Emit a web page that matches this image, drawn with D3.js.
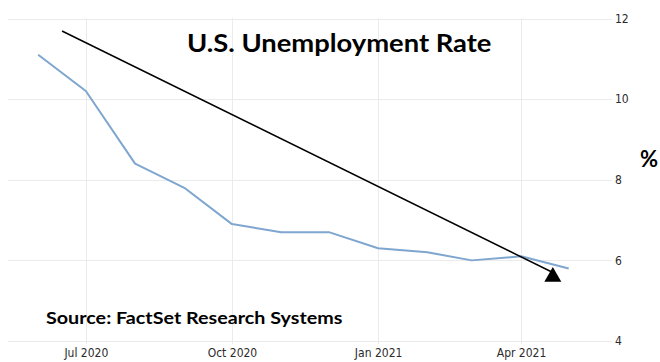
<!DOCTYPE html>
<html>
<head>
<meta charset="utf-8">
<script src="https://cdn.jsdelivr.net/npm/d3@7"></script>
<style>
  body { margin: 0; background: #fff; }
  .tick text { font-family: "Liberation Sans Narrow", "DejaVu Sans Condensed", sans-serif; font-size: 12px; fill: #2b2b2b; }
</style>
</head>
<body>
<script>
'use strict';

// monthly unemployment rate, Jun 2020 - May 2021
const months = ['2020-06-01', '2020-07-01', '2020-08-01', '2020-09-01', '2020-10-01', '2020-11-01',
                '2020-12-01', '2021-01-01', '2021-02-01', '2021-03-01', '2021-04-01', '2021-05-01'];
const rates = [11.1, 10.2, 8.4, 7.8, 6.9, 6.7, 6.7, 6.3, 6.2, 6.0, 6.1, 5.8];

const xTicks = ['2020-07-01', '2020-10-01', '2021-01-01', '2021-04-01'];
const yTicks = [4, 6, 8, 10, 12];

// trend arrow annotation (date, value)
const arrowFrom = ['2020-06-16', 11.69];
const arrowTo = ['2021-04-21', 5.70];
const arrowHead = ['2021-04-21', 5.59];

(function() {
    const width = 660, height = 362;
    const parse = d3.timeParse('%Y-%m-%d');

    const svg = d3.select('body').append('svg')
        .attr('width', width)
        .attr('height', height);

    const x = d3.scaleTime()
        .domain([parse('2020-05-13'), parse('2021-05-27')])
        .range([8, 610]);

    const y = d3.scaleLinear()
        .domain([4, 12])
        .range([341, 18.5]);

    // horizontal grid
    svg.append('g')
        .selectAll('line')
        .data(yTicks)
        .enter()
        .append('line')
        .attr('x1', 8)
        .attr('x2', 612)
        .attr('y1', (d) => Math.round(y(d)) + 0.5)
        .attr('y2', (d) => Math.round(y(d)) + 0.5)
        .style('stroke', '#ebebeb');

    // vertical grid
    svg.append('g')
        .selectAll('line')
        .data(xTicks)
        .enter()
        .append('line')
        .attr('x1', (d) => Math.round(x(parse(d))) + 0.5)
        .attr('x2', (d) => Math.round(x(parse(d))) + 0.5)
        .attr('y1', 18)
        .attr('y2', 344)
        .style('stroke', '#ebebeb');

    // axes
    const yAxis = d3.axisRight(y)
        .tickValues(yTicks)
        .tickSize(0)
        .tickPadding(5);
    svg.append('g')
        .attr('transform', 'translate(610, 0)')
        .call(yAxis)
        .call((g) => g.select('.domain').remove());

    const xAxis = d3.axisBottom(x)
        .tickValues(xTicks.map(parse))
        .tickFormat(d3.timeFormat('%b %Y'))
        .tickSize(0)
        .tickPadding(7);
    svg.append('g')
        .attr('transform', 'translate(0, 341)')
        .call(xAxis)
        .call((g) => g.select('.domain').remove());

    // series line
    const line = d3.line()
        .x((d, i) => x(parse(months[i])))
        .y((d) => y(d));

    svg.append('path')
        .datum(rates)
        .attr('d', line)
        .style('fill', 'none')
        .style('stroke', '#7ea6cf')
        .style('stroke-width', 2)
        .style('stroke-linejoin', 'round');

    // trend arrow
    svg.append('line')
        .attr('x1', x(parse(arrowFrom[0])))
        .attr('y1', y(arrowFrom[1]))
        .attr('x2', x(parse(arrowTo[0])))
        .attr('y2', y(arrowTo[1]))
        .style('stroke', '#000')
        .style('stroke-width', 1.5);

    svg.append('path')
        .attr('d', d3.symbol().type(d3.symbolTriangle).size(125)())
        .attr('transform', 'translate(' + x(parse(arrowHead[0])) + ',' + y(arrowHead[1]) + ')')
        .style('fill', '#000');

    // titles (picture is stretched a bit wide)
    svg.append('text')
        .attr('transform', 'translate(187, 52) scale(1.14, 1)')
        .style('font-family', 'Lato, sans-serif')
        .style('font-weight', 'bold')
        .style('font-size', '24px')
        .text('U.S. Unemployment Rate');

    svg.append('text')
        .attr('transform', 'translate(46, 324) scale(1.16, 1)')
        .style('font-family', 'Lato, sans-serif')
        .style('font-weight', 'bold')
        .style('font-size', '17px')
        .text('Source: FactSet Research Systems');

    svg.append('text')
        .attr('x', 640)
        .attr('y', 167)
        .style('font-family', 'Lato, sans-serif')
        .style('font-weight', 'bold')
        .style('font-size', '22px')
        .text('%');
})();
</script>
</body>
</html>
